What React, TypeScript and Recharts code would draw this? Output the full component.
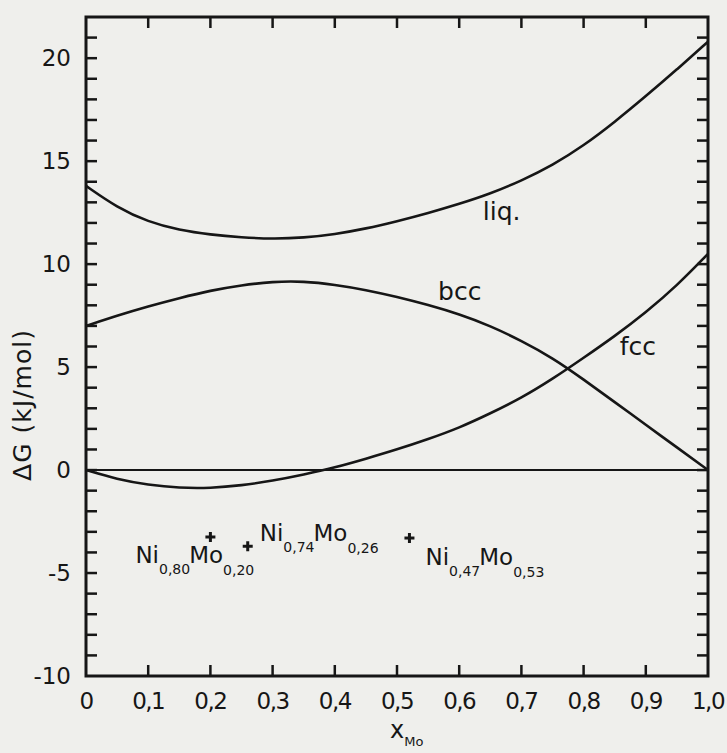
import React from 'react';
import {
  ComposedChart,
  Line,
  Scatter,
  XAxis,
  YAxis,
  ReferenceLine,
  ReferenceArea,
  ReferenceDot,
} from 'recharts';

// Gibbs energy curves
const xMo = [0, 0.05, 0.1, 0.15, 0.2, 0.25, 0.3, 0.35, 0.4, 0.45, 0.5, 0.55, 0.6, 0.65, 0.7, 0.75, 0.8, 0.85, 0.9, 0.95, 1.0];
const liq = [13.8, 12.75, 12.05, 11.65, 11.43, 11.3, 11.22, 11.28, 11.45, 11.72, 12.08, 12.48, 12.92, 13.42, 14.05, 14.8, 15.75, 16.9, 18.15, 19.45, 20.8];
const bcc = [7.0, 7.5, 7.95, 8.35, 8.72, 8.98, 9.15, 9.17, 9.0, 8.75, 8.41, 8.02, 7.57, 7.0, 6.28, 5.45, 4.4, 3.3, 2.2, 1.1, 0];
const fcc = [0, -0.45, -0.72, -0.87, -0.88, -0.75, -0.52, -0.22, 0.12, 0.55, 1.0, 1.5, 2.05, 2.75, 3.5, 4.42, 5.45, 6.5, 7.65, 8.95, 10.5];

// intermetallic compositions (+ markers)
const compoundX = [0.2, 0.26, 0.52];
const compoundY = [-3.25, -3.7, -3.3];
const compoundNi = ['0,80', '0,74', '0,47'];
const compoundMo = ['0,20', '0,26', '0,53'];

const xTicks = [0, 0.1, 0.2, 0.3, 0.4, 0.5, 0.6, 0.7, 0.8, 0.9, 1.0];
const xTickLabels = ['0', '0,1', '0,2', '0,3', '0,4', '0,5', '0,6', '0,7', '0,8', '0,9', '1,0'];
const yTicks = [-10, -9, -8, -7, -6, -5, -4, -3, -2, -1, 0, 1, 2, 3, 4, 5, 6, 7, 8, 9, 10, 11, 12, 13, 14, 15, 16, 17, 18, 19, 20, 21];
const yTickLabels = [-10, -5, 0, 5, 10, 15, 20];

const curveData = xMo.map((x, i) => ({ x, liq: liq[i], bcc: bcc[i], fcc: fcc[i] }));
const compoundData = compoundX.map((x, i) => ({
  x,
  y: compoundY[i],
  ni: compoundNi[i],
  mo: compoundMo[i],
  i,
}));

// layout
const W = 727;
const H = 753;
const PL = 86;
const PT = 17;
const PR = 708;
const PB = 676;
const TICK = 11;
const INK = '#161616';
const FONT = '"DejaVu Sans", sans-serif';

const labelOffsets = [
  [-75, 26],
  [12, -5],
  [16, 27],
];

function XTick(props: any) {
  const { payload } = props;
  const c = payload.coordinate;
  const v = payload.value;
  const idx = xTicks.indexOf(v);
  const inner = v > 0 && v < 1;
  return (
    <g>
      {inner && <line x1={c} x2={c} y1={PB} y2={PB - TICK} stroke={INK} strokeWidth={2.5} />}
      {inner && <line x1={c} x2={c} y1={PT} y2={PT + TICK} stroke={INK} strokeWidth={2.5} />}
      <text x={c} y={709} textAnchor="middle" fontSize={23} letterSpacing={-1.5} fill={INK} fontFamily={FONT}>
        {xTickLabels[idx]}
      </text>
    </g>
  );
}

function YTick(props: any) {
  const { payload } = props;
  const c = payload.coordinate;
  const v = payload.value;
  return (
    <g>
      {v > -10 && <line x1={PL} x2={PL + TICK} y1={c} y2={c} stroke={INK} strokeWidth={2.5} />}
      {v > -10 && <line x1={PR - TICK} x2={PR} y1={c} y2={c} stroke={INK} strokeWidth={2.5} />}
      {yTickLabels.includes(v) && (
        <text x={71} y={c} textAnchor="end" dominantBaseline="central" fontSize={23} fill={INK} fontFamily={FONT}>
          {v < 0 ? `-${Math.abs(v)}` : v}
        </text>
      )}
    </g>
  );
}

function Compound(props: any) {
  const { cx, cy, payload } = props;
  const [dx, dy] = labelOffsets[payload.i];
  return (
    <g>
      <line x1={cx - 5} x2={cx + 5} y1={cy} y2={cy} stroke={INK} strokeWidth={3} />
      <line x1={cx} x2={cx} y1={cy - 5} y2={cy + 5} stroke={INK} strokeWidth={3} />
      <text x={cx + dx} y={cy + dy} fontSize={23} fill={INK} fontFamily={FONT}>
        <tspan>Ni</tspan>
        <tspan fontSize={14} dy={11}>{payload.ni}</tspan>
        <tspan dy={-11} dx={-1}>Mo</tspan>
        <tspan fontSize={14} dy={12}>{payload.mo}</tspan>
      </text>
    </g>
  );
}

function curveLabel(text: string) {
  return (p: any) => (
    <text x={p.cx} y={p.cy} fontSize={25} fill={INK} fontFamily={FONT}>
      {text}
    </text>
  );
}

export default function App() {
  return (
    <div style={{ position: 'fixed', inset: 0, background: '#efefec' }}>
      <div style={{ position: 'absolute', left: 0, top: 0 }}>
        <ComposedChart
          width={W}
          height={H}
          data={curveData}
          margin={{ top: PT, right: W - PR, bottom: 0, left: 0 }}
        >
          <XAxis
            dataKey="x"
            type="number"
            domain={[0, 1]}
            ticks={xTicks}
            interval={0}
            height={H - PB}
            axisLine={false}
            tickLine={false}
            tick={XTick}
            label={{
              content: () => (
                <text x={390} y={738} fontSize={24} fill={INK} fontFamily={FONT}>
                  <tspan>x</tspan>
                  <tspan fontSize={13} dy={8}>Mo</tspan>
                </text>
              ),
            }}
          />
          <YAxis
            type="number"
            domain={[-10, 22]}
            ticks={yTicks}
            interval={0}
            width={PL}
            axisLine={false}
            tickLine={false}
            tick={YTick}
            label={{
              content: () => (
                <text
                  transform="translate(31,405) rotate(-90)"
                  textAnchor="middle"
                  fontSize={25}
                  letterSpacing={1}
                  fill={INK}
                  fontFamily={FONT}
                >
                  ΔG (kJ/mol)
                </text>
              ),
            }}
          />
          <ReferenceArea x1={0} x2={1} y1={-10} y2={22} fill="none" fillOpacity={0} stroke={INK} strokeWidth={3} />
          <ReferenceLine y={0} stroke={INK} strokeWidth={2} />
          <Line dataKey="liq" type="basis" stroke={INK} strokeWidth={2.6} dot={false} isAnimationActive={false} />
          <Line dataKey="bcc" type="basis" stroke={INK} strokeWidth={2.6} dot={false} isAnimationActive={false} />
          <Line dataKey="fcc" type="basis" stroke={INK} strokeWidth={2.6} dot={false} isAnimationActive={false} />
          <Scatter data={compoundData} dataKey="y" shape={Compound} isAnimationActive={false} />
          <ReferenceDot x={0.638} y={12.15} r={0} shape={curveLabel('liq.')} ifOverflow="visible" />
          <ReferenceDot x={0.566} y={8.26} r={0} shape={curveLabel('bcc')} ifOverflow="visible" />
          <ReferenceDot x={0.858} y={5.59} r={0} shape={curveLabel('fcc')} ifOverflow="visible" />
        </ComposedChart>
      </div>
    </div>
  );
}
